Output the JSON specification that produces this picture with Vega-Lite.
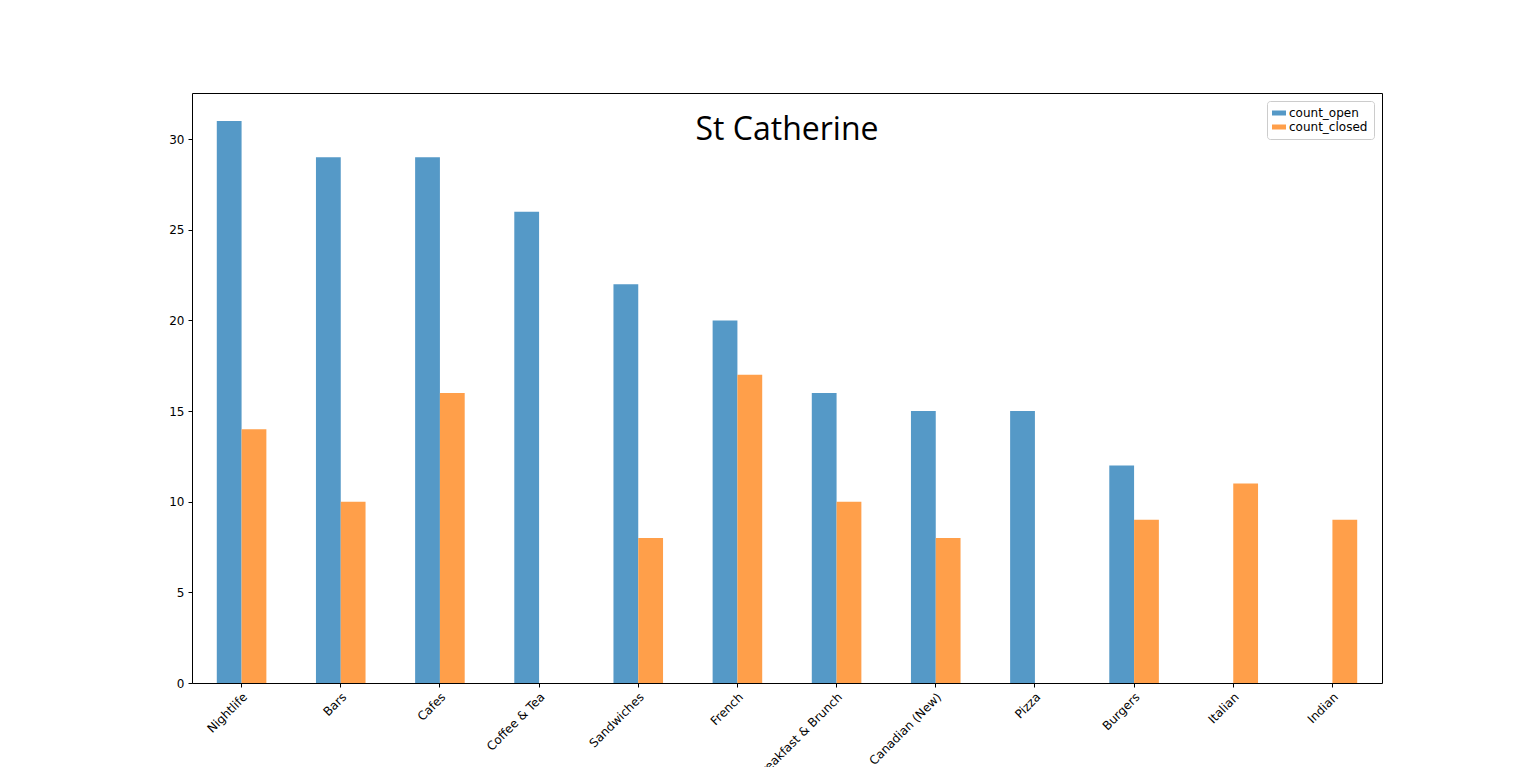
{
  "$schema": "https://vega.github.io/schema/vega-lite/v6.json",
  "width": 1190,
  "height": 590,
  "autosize": "none",
  "padding": {"left": 192, "top": 93, "right": 154, "bottom": 84},
  "background": "white",
  "title": {"text": "St Catherine", "fontSize": 32, "fontWeight": "normal", "font": "Open Sans", "color": "black", "dy": 58, "anchor": "middle"},
  "data": {
    "values": [
      {"cat": "Nightlife", "series": "count_open", "count": 31},
      {"cat": "Nightlife", "series": "count_closed", "count": 14},
      {"cat": "Bars", "series": "count_open", "count": 29},
      {"cat": "Bars", "series": "count_closed", "count": 10},
      {"cat": "Cafes", "series": "count_open", "count": 29},
      {"cat": "Cafes", "series": "count_closed", "count": 16},
      {"cat": "Coffee & Tea", "series": "count_open", "count": 26},
      {"cat": "Coffee & Tea", "series": "count_closed", "count": 0},
      {"cat": "Sandwiches", "series": "count_open", "count": 22},
      {"cat": "Sandwiches", "series": "count_closed", "count": 8},
      {"cat": "French", "series": "count_open", "count": 20},
      {"cat": "French", "series": "count_closed", "count": 17},
      {"cat": "Breakfast & Brunch", "series": "count_open", "count": 16},
      {"cat": "Breakfast & Brunch", "series": "count_closed", "count": 10},
      {"cat": "Canadian (New)", "series": "count_open", "count": 15},
      {"cat": "Canadian (New)", "series": "count_closed", "count": 8},
      {"cat": "Pizza", "series": "count_open", "count": 15},
      {"cat": "Pizza", "series": "count_closed", "count": 0},
      {"cat": "Burgers", "series": "count_open", "count": 12},
      {"cat": "Burgers", "series": "count_closed", "count": 9},
      {"cat": "Italian", "series": "count_open", "count": 0},
      {"cat": "Italian", "series": "count_closed", "count": 11},
      {"cat": "Indian", "series": "count_open", "count": 0},
      {"cat": "Indian", "series": "count_closed", "count": 9}
    ]
  },
  "mark": {"type": "bar"},
  "encoding": {
    "x": {
      "field": "cat", "type": "nominal", "sort": null,
      "scale": {"paddingInner": 0.5, "paddingOuter": 0.25},
      "axis": {"title": null, "labelAngle": -45, "labelAlign": "right", "labelBaseline": "top", "labelFontSize": 12, "labelFont": "DejaVu Sans", "labelColor": "black", "tickColor": "black", "tickSize": 4, "domain": false, "labelPadding": 4}
    },
    "xOffset": {"field": "series", "type": "nominal", "sort": ["count_open", "count_closed"], "scale": {"paddingInner": 0, "paddingOuter": 0}},
    "y": {
      "field": "count", "type": "quantitative",
      "scale": {"domain": [0, 32.55], "nice": false},
      "axis": {"title": null, "values": [0, 5, 10, 15, 20, 25, 30], "grid": false, "domain": false, "labelFontSize": 12, "labelFont": "DejaVu Sans", "labelColor": "black", "tickColor": "black", "tickSize": 4, "labelPadding": 4}
    },
    "color": {
      "field": "series", "type": "nominal",
      "scale": {"domain": ["count_open", "count_closed"], "range": ["#5599c7", "#ff9f4a"]},
      "legend": {"title": null, "orient": "top-right", "symbolType": "M-1.4,-0.5H1.4V0.5H-1.4Z", "symbolSize": 100, "labelFontSize": 12, "labelFont": "DejaVu Sans", "labelColor": "black", "strokeColor": "#cccccc", "fillColor": "white", "padding": 6, "cornerRadius": 3, "offset": 8}
    }
  },
  "config": {"view": {"stroke": "black", "strokeWidth": 1}}
}
